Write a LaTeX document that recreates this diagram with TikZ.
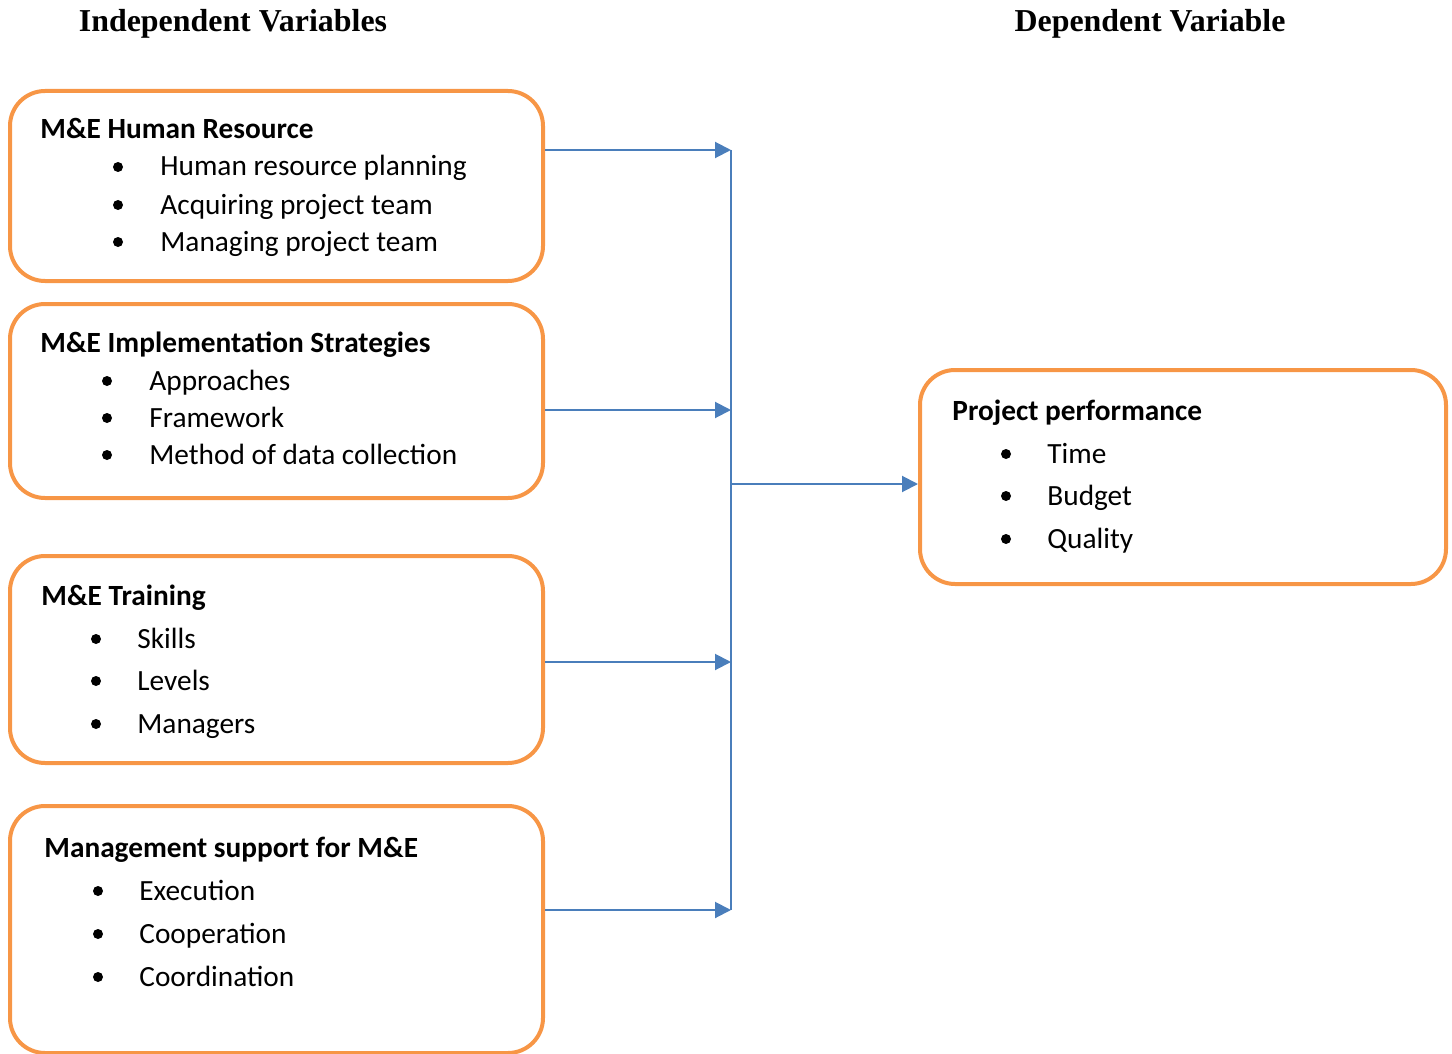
\documentclass[tikz,border=0pt]{standalone}
\usepackage{fontspec}
\setmainfont{Carlito}
\newfontfamily\hdrfont{Liberation Serif}
\usetikzlibrary{arrows.meta}
\definecolor{boxorange}{HTML}{F79646}
\definecolor{lineblue}{HTML}{4A7EBB}
\begin{document}
\begin{tikzpicture}[x=0.5pt,y=-0.5pt,
  box/.style={draw=boxorange, line width=2pt, rounded corners=17.5pt, anchor=north west, inner sep=0pt},
  txt/.style={anchor=base west, inner sep=0pt, font=\fontsize{14.66pt}{18pt}\selectfont},
  ttl/.style={txt, font=\fontsize{14.66pt}{18pt}\selectfont\bfseries},
  hdr/.style={anchor=base, inner sep=0pt, font=\fontsize{15.95pt}{19pt}\selectfont\hdrfont\bfseries},
  dot/.style={circle, fill=black, inner sep=0pt, minimum size=5pt},
  conn/.style={draw=lineblue, line width=1pt},
  arr/.style={conn, -{Triangle[length=8pt,width=8pt]}}]
\useasboundingbox (0,0) rectangle (1452,1054);

% headers
\node[hdr] (hindep) at (233,32) {Independent Variables};
\node[hdr] (hdep) at (1150,32) {Dependent Variable};

% boxes
\node[box, minimum width=266.5pt, minimum height=95pt] (hr) at (8,89) {};
\node[box, minimum width=266.5pt, minimum height=97pt] (impl) at (8,302) {};
\node[box, minimum width=266.5pt, minimum height=103.5pt] (train) at (8,554) {};
\node[box, minimum width=266.5pt, minimum height=123.5pt] (mgmt) at (8,804) {};
\node[box, minimum width=263pt, minimum height=107pt] (pp) at (918,368) {};

% box 1 text
\node[ttl] (t1) at (40,139) {M\&E Human Resource};
\node[dot] (d11) at (118,167) {};
\node[dot] (d12) at (118,205) {};
\node[dot] (d13) at (118,242) {};
\node[txt] (l11) at (160,176) {Human resource planning};
\node[txt] (l12) at (160,214) {Acquiring project team};
\node[txt] (l13) at (160,251) {Managing project team};

% box 2 text
\node[ttl] (t2) at (40,352) {M\&E Implementation Strategies};
\node[dot] (d21) at (107,381) {};
\node[dot] (d22) at (107,418) {};
\node[dot] (d23) at (107,455) {};
\node[txt] (l21) at (149,390) {Approaches};
\node[txt] (l22) at (149,427) {Framework};
\node[txt] (l23) at (149,464) {Method of data collection};

% box 3 text
\node[ttl] (t3) at (41,605) {M\&E Training};
\node[dot] (d31) at (96,639) {};
\node[dot] (d32) at (96,681) {};
\node[dot] (d33) at (96,724) {};
\node[txt] (l31) at (137,648) {Skills};
\node[txt] (l32) at (137,690) {Levels};
\node[txt] (l33) at (137,733) {Managers};

% box 4 text
\node[ttl] (t4) at (44,857) {Management support for M\&E};
\node[dot] (d41) at (98,891) {};
\node[dot] (d42) at (98,934) {};
\node[dot] (d43) at (98,977) {};
\node[txt] (l41) at (139,900) {Execution};
\node[txt] (l42) at (139,943) {Cooperation};
\node[txt] (l43) at (139,986) {Coordination};

% box 5 text
\node[ttl] (t5) at (952,420) {Project performance};
\node[dot] (d51) at (1006,454) {};
\node[dot] (d52) at (1006,496) {};
\node[dot] (d53) at (1006,539) {};
\node[txt] (l51) at (1047,463) {Time};
\node[txt] (l52) at (1047,505) {Budget};
\node[txt] (l53) at (1047,548) {Quality};

% connectors
\coordinate (j1) at (731,150);
\coordinate (j2) at (731,410);
\coordinate (j3) at (731,662);
\coordinate (j4) at (731,910);
\coordinate (jm) at (731,484);
\draw[arr] (hr.east |- j1) -- (j1);
\draw[arr] (impl.east |- j2) -- (j2);
\draw[arr] (train.east |- j3) -- (j3);
\draw[arr] (mgmt.east |- j4) -- (j4);
\draw[conn] (j1) -- (j4);
\draw[arr] (jm) -- (pp.west |- jm);
\end{tikzpicture}
\end{document}
